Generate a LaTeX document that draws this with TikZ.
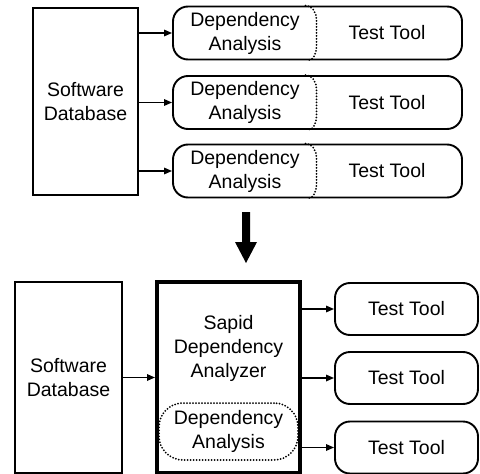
\documentclass[tikz,border=0pt]{standalone}
\usepackage{fontspec}
\setmainfont{Liberation Sans}
\usetikzlibrary{arrows.meta}
\begin{document}
\begin{tikzpicture}[x=1pt,y=-1pt,
  every node/.style={font=\fontsize{19.5}{24}\selectfont, align=center, inner sep=0pt},
  box/.style={draw, line width=1.9pt, minimum width=#1},
  rbox/.style={draw, line width=1.9pt, rounded corners=15pt, minimum width=#1},
  arr/.style={line width=1.6pt, -{Triangle[length=8pt,width=6.5pt]}},
  dot/.style={line width=2pt, line cap=round, dash pattern=on 0pt off 3pt}
]
\useasboundingbox (0,0) rectangle (480,474);
% top part
\node[box=105pt, minimum height=187pt] (db1) at (85.5,101.5) {Software\\Database};
\foreach \i/\y in {1/33,2/102.5,3/171}{
  \node[rbox=289pt, minimum height=53pt] (r\i) at (317.5,\y) {};
  \node (da\i) at (245,\y) {Dependency\\Analysis};
  \node (tt\i) at (387,\y) {Test Tool};
  \draw[dot] ([xshift=-12pt]r\i.north) to[out=0,in=90] ([xshift=-1pt,yshift=-14pt]r\i.north)
     -- ([xshift=-1pt,yshift=14pt]r\i.south) to[out=-90,in=0] ([xshift=-10pt]r\i.south);
  \draw[arr] (db1.east |- r\i.west) -- (r\i.west);
}
% big arrow
\fill (242,212) -- (250,212) -- (250,242) -- (257,242) -- (246,263) -- (235,242) -- (242,242) -- cycle;
% bottom part
\node[box=107pt, minimum height=191pt] (db2) at (68.5,377.5) {Software\\Database};
\node[draw, line width=4pt, minimum width=143pt, minimum height=191pt] (sda) at (228.5,377.5) {};
\node (sdat) at (228.5,348) {Sapid\\Dependency\\Analyzer};
\node[draw, dot, rounded corners=24pt, minimum width=139pt, minimum height=57pt] (dab) at (228.5,431.5) {Dependency\\Analysis};
\foreach \i/\y in {1/309,2/378,3/447.5}{
  \node[rbox=143pt, minimum height=52pt] (bt\i) at (406.5,\y) {Test Tool};
  \draw[arr] (sda.east |- bt\i.west) -- (bt\i.west);
}
\draw[arr] (db2.east |- sda.west) -- (sda.west);
\end{tikzpicture}
\end{document}
